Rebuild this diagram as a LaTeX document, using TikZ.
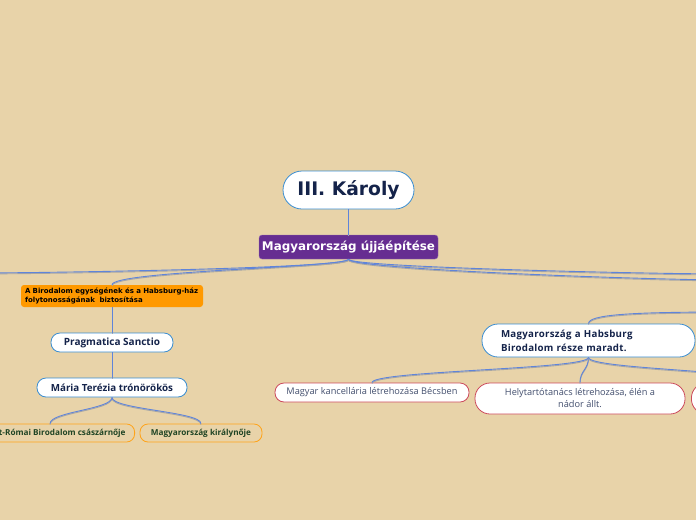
\documentclass[tikz,border=0pt]{standalone}
\usepackage{fontspec}
\setmainfont{Open Sans}
\newfontfamily\dejavu{DejaVu Sans}
\newfontfamily\tagolt[LetterSpace=3]{Open Sans}
\definecolor{hatter}{HTML}{E8D3A9}
\definecolor{lila}{HTML}{662D91}
\definecolor{narancs}{HTML}{FF9900}
\definecolor{kek}{HTML}{3A8DD0}
\definecolor{piros}{HTML}{CC4A5C}
\definecolor{sotetkek}{HTML}{14234A}
\definecolor{zold}{HTML}{1F4424}
\definecolor{agszin}{HTML}{5F84DA}

\begin{document}
\begin{tikzpicture}[x=1pt,y=-1pt,
  ag/.style={draw=agszin,line width=0.9pt,preaction={draw=gray!70,line width=0.9pt,transform canvas={yshift=-1pt}}},
  kekdoboz/.style={draw=kek,fill=white,line width=0.8pt,text=sotetkek,font=\bfseries\fontsize{10}{12}\selectfont,
    minimum height=19pt,inner sep=0pt,rounded corners=9pt},
  pirosdoboz/.style={draw=piros,fill=white,line width=0.8pt,text=sotetkek!80,font=\fontsize{9.2}{12}\selectfont,
    minimum height=19pt,inner sep=0pt,rounded corners=9pt},
  sargadoboz/.style={draw=narancs!90,line width=0.8pt,text=zold,font=\bfseries\fontsize{8.2}{10}\selectfont,
    minimum height=18pt,inner xsep=9pt,inner ysep=0pt,rounded corners=8pt}]
\fill[hatter] (0,0) rectangle (696,520);
\useasboundingbox (0,0) rectangle (696,520);
\clip (0,0) rectangle (696,520);
% kozep
\node[draw=kek,fill=white,line width=0.8pt,rounded corners=19pt,minimum width=131pt,minimum height=38pt,inner sep=0pt,
  text=sotetkek,font=\dejavu\bfseries\fontsize{18.7}{20}\selectfont] (karoly) at (348.5,190) {III. Károly};
\node[fill=lila,draw=lila!70!white,rounded corners=3pt,minimum width=179pt,minimum height=24pt,inner sep=0pt,
  text=white,font=\dejavu\bfseries\fontsize{11.9}{13}\selectfont] (ujjaepites) at (348.5,247) {Magyarország újjáépítése};
\coordinate (balra) at (-30,273);
\coordinate (jobbra1) at (730,274);
\coordinate (jobbra2) at (730,280);
\coordinate (jobbra3) at (730,312);
% bal ag
\node[fill=narancs,rounded corners=3pt,minimum width=182pt,minimum height=22pt,inner xsep=4pt,inner ysep=0pt,
  text width=174pt,align=left,font=\dejavu\bfseries\fontsize{7}{9}\selectfont] (biztositas) at (112,296)
  {A Birodalom egységének és a Habsburg-ház\\folytonosságának \ biztosítása};
\node[kekdoboz,minimum width=122pt] (pragmatica) at (112,342.5) {Pragmatica Sanctio};
\node[kekdoboz,minimum width=150pt,font=\bfseries\fontsize{9.8}{12}\selectfont] (maria) at (112,387.5) {Mária Terézia trónörökös};
\node[sargadoboz,anchor=east] (csaszarno) at (135,433) {Német-Római Birodalom császárnője};
\node[sargadoboz,minimum width=122pt] (kiralyno) at (201,433) {Magyarország királynője};
% jobb ag
\node[draw=kek,fill=white,line width=0.8pt,rounded corners=16pt,minimum width=213pt,minimum height=33pt,inner xsep=19pt,inner ysep=0pt,
  text width=175pt,align=left,text=sotetkek,font=\tagolt\bfseries\fontsize{9.7}{14}\selectfont] (habsburg) at (588.5,340.5)
  {Magyarország a Habsburg\\Birodalom része maradt.};
\node[pirosdoboz,minimum width=194pt] (kancellaria) at (372,392.5) {Magyar kancellária létrehozása Bécsben};
\node[pirosdoboz,minimum width=210pt,minimum height=31pt,rounded corners=15pt,align=center] (helytarto) at (580,398.5)
  {Helytartótanács létrehozása, élén a\\nádor állt.};
\node[pirosdoboz,minimum width=150pt,minimum height=31pt,rounded corners=15pt,anchor=west] (harmadik) at (691,398.5) {};
% kapcsolatok
\draw[ag] (karoly.south) -- (ujjaepites.north);
\draw[ag] (ujjaepites.south) .. controls +(0,9) and +(80,0) .. (balra);
\draw[ag] (ujjaepites.south) .. controls +(0,8) and +(0,-14) .. (biztositas.north);
\draw[ag] (ujjaepites.south) .. controls +(0,8) and +(-80,0) .. (jobbra1);
\draw[ag] (ujjaepites.south) .. controls +(0,10) and +(-80,0) .. (jobbra2);
\draw[ag] (jobbra3) .. controls +(-100,0) and +(0,-9) .. (habsburg.north);
\draw[ag] (biztositas.south) -- (pragmatica.north);
\draw[ag] (pragmatica.south) -- (maria.north);
\draw[ag] (maria.south) .. controls +(0,12) and +(0,-12) .. (csaszarno.north);
\draw[ag] (maria.south) .. controls +(0,12) and +(0,-12) .. (kiralyno.north);
\draw[ag] (habsburg.south) .. controls +(0,12) and +(0,-12) .. (kancellaria.north);
\draw[ag] (habsburg.south) .. controls +(0,12) and +(0,-12) .. (helytarto.north);
\draw[ag] (habsburg.south) .. controls +(0,12) and +(0,-12) .. (harmadik.north);
\end{tikzpicture}
\end{document}
